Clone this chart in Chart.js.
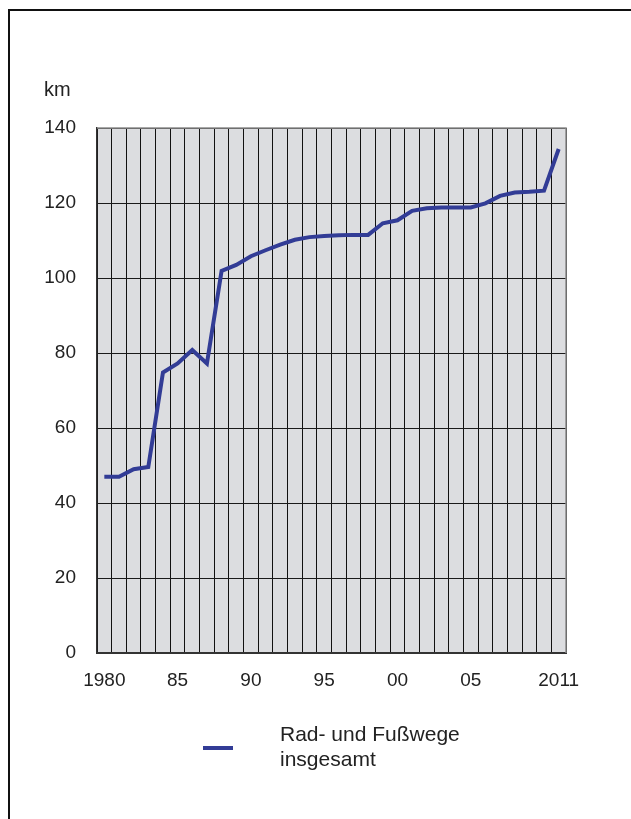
<!DOCTYPE html>
<html>
<head>
<meta charset="utf-8">
<script src="https://cdn.jsdelivr.net/npm/chart.js@4/dist/chart.umd.min.js"></script>
<style>
  html, body { margin: 0; padding: 0; background: #fff; }
  body { width: 631px; height: 819px; position: relative; overflow: hidden; font-family: "Liberation Sans", Arial, sans-serif; }
  .frame { position: absolute; left: 8px; top: 9px; width: 700px; height: 900px; border-left: 2px solid #111; border-top: 2px solid #111; }
  #wrap { position: absolute; left: 0; top: 0; width: 631px; height: 819px; }
  .unit { position: absolute; left: 44px; top: 78px; font-size: 20px; color: #222; }
  .legend-line { position: absolute; left: 203px; top: 746px; width: 30px; height: 4px; background: #323c96; }
  .legend-text { position: absolute; left: 280px; top: 721px; font-size: 21px; line-height: 25px; color: #222; }
</style>
</head>
<body>
<div class="frame"></div>
<div id="wrap"><canvas id="chart" width="631" height="819"></canvas></div>
<div class="unit">km</div>
<div class="legend-line"></div>
<div class="legend-text">Rad- und Fußwege<br>insgesamt</div>
<script>
// --- Data ---
const years = [
  1980, 1981, 1982, 1983, 1984, 1985, 1986, 1987, 1988, 1989,
  1990, 1991, 1992, 1993, 1994, 1995, 1996, 1997, 1998, 1999,
  2000, 2001, 2002, 2003, 2004, 2005, 2006, 2007, 2008, 2009,
  2010, 2011
];
const wegeKm = [
  47.0, 47.0, 49.0, 49.6, 74.8, 77.2, 80.8, 77.2, 101.9, 103.5,
  105.8, 107.4, 108.9, 110.2, 110.9, 111.2, 111.4, 111.5, 111.5, 114.6,
  115.4, 117.9, 118.6, 118.8, 118.8, 118.8, 119.9, 121.9, 122.8, 123.0,
  123.3, 134.4
];
const xTickLabels = [
  "1980", "", "", "", "", "85", "", "", "", "",
  "90", "", "", "", "", "95", "", "", "", "",
  "00", "", "", "", "", "05", "", "", "", "",
  "", "2011"
];
const yTicks = [0, 20, 40, 60, 80, 100, 120, 140];

const tickFont = { family: "'Liberation Sans', Arial, sans-serif", size: 19 };

// plot background + light top/right frame
const plotDecor = {
  id: "plotDecor",
  beforeDraw(chart) {
    const { ctx, chartArea: a } = chart;
    ctx.save();
    ctx.fillStyle = "#dcdde0";
    ctx.fillRect(a.left, a.top, a.right - a.left, a.bottom - a.top);
    ctx.restore();
  },
  beforeDatasetsDraw(chart) {
    const { ctx, chartArea: a } = chart;
    ctx.save();
    ctx.strokeStyle = "#8c8c8c";
    ctx.lineWidth = 1.5;
    ctx.beginPath();
    ctx.moveTo(a.left, a.top);
    ctx.lineTo(a.right, a.top);
    ctx.lineTo(a.right, a.bottom);
    ctx.stroke();
    ctx.restore();
  }
};

const ctx = document.getElementById("chart").getContext("2d");
new Chart(ctx, {
  type: "line",
  data: {
    labels: years,
    datasets: [{
      label: "Rad- und Fußwege insgesamt",
      data: wegeKm,
      borderColor: "#323c96",
      borderWidth: 4,
      pointRadius: 0,
      tension: 0,
      fill: false
    }]
  },
  options: {
    responsive: false,
    animation: false,
    layout: { padding: { left: 0, top: 128, right: 65, bottom: 126 } },
    plugins: {
      legend: { display: false },
      tooltip: { enabled: false }
    },
    scales: {
      x: {
        type: "category",
        offset: true,
        afterFit(scale) { scale.height = 40; },
        grid: { offset: true, color: "#111", lineWidth: 1, drawTicks: false },
        border: { color: "#333", width: 2 },
        ticks: {
          autoSkip: false,
          maxRotation: 0,
          minRotation: 0,
          padding: 16,
          color: "#222",
          font: tickFont,
          callback: (value, index) => xTickLabels[index]
        }
      },
      y: {
        min: 0,
        max: 140,
        afterFit(scale) { scale.width = 97; },
        afterBuildTicks(scale) { scale.ticks = yTicks.map(v => ({ value: v })); },
        grid: { color: "#1a1a1a", lineWidth: 1, drawTicks: false },
        border: { color: "#333", width: 1.5 },
        ticks: {
          padding: 21,
          color: "#222",
          font: tickFont
        }
      }
    }
  },
  plugins: [plotDecor]
});
</script>
</body>
</html>
